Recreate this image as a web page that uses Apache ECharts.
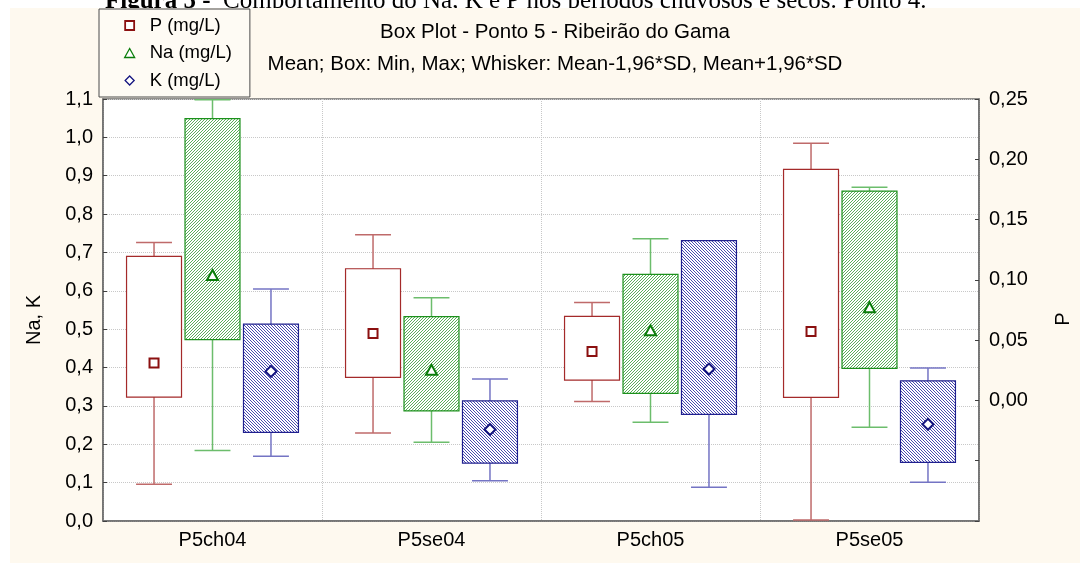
<!DOCTYPE html>
<html>
<head>
<meta charset="utf-8">
<script src="https://cdn.jsdelivr.net/npm/echarts@6/dist/echarts.min.js"></script>
<style>
html,body{margin:0;padding:0;background:#fff;}
#chart{width:1080px;height:563px;}
</style>
</head>
<body>
<div id="chart"></div>
<script>
// ---- data ----
const categories = ['P5ch04', 'P5se04', 'P5ch05', 'P5se05'];
// each row: [Mean-1.96*SD, Min, Mean, Max, Mean+1.96*SD]
const pValues  = [[-0.0695, 0.0028, 0.0311, 0.1194, 0.1310],
                  [-0.0270, 0.0192, 0.0555, 0.1092, 0.1375],
                  [-0.0008, 0.0169, 0.0405, 0.0697, 0.0813],
                  [-0.0992, 0.0025, 0.0572, 0.1917, 0.2133]];
const naValues = [[0.184, 0.473, 0.640, 1.049, 1.098],
                  [0.205, 0.287, 0.393, 0.5325, 0.582],
                  [0.2576, 0.3325, 0.496, 0.643, 0.736],
                  [0.2446, 0.398, 0.556, 0.860, 0.870]];
const kValues  = [[0.169, 0.231, 0.390, 0.513, 0.605],
                  [0.105, 0.151, 0.2386, 0.313, 0.370],
                  [0.088, 0.2777, 0.396, 0.731, 0.704],
                  [0.101, 0.153, 0.252, 0.3655, 0.399]];
const leftTicks = {min: 0, max: 1.1, interval: 0.1};
const rightTicks = {min: -0.1, max: 0.25, interval: 0.05};
const seriesNames = ['P (mg/L)', 'Na (mg/L)', 'K (mg/L)'];

// ---- helpers ----
function hatch(color, dir) {
  const c = document.createElement('canvas');
  c.width = 3; c.height = 3;
  const g = c.getContext('2d');
  g.fillStyle = '#ffffff'; g.fillRect(0, 0, 3, 3);
  g.fillStyle = color;
  for (let i = 0; i < 3; i++) {
    if (dir === '/') g.fillRect(i, 2 - i, 1, 1); else g.fillRect(i, i, 1, 1);
  }
  return c;
}
const FONT = "'Liberation Sans', Arial, sans-serif";
const SERIF = "'Liberation Serif', 'Times New Roman', serif";

function toRows(arr) { return arr.map((r, i) => [i].concat(r)); }

function makeRender(offsetFrac, st) {
  return function (params, api) {
    const cat = api.value(0);
    const wl = api.value(1), bmin = api.value(2), mean = api.value(3), bmax = api.value(4), wh = api.value(5);
    const band = api.size([1, 0])[0];
    const cx = api.coord([cat, mean])[0] + offsetFrac * band;
    const Y = v => api.coord([cat, v])[1];
    const bw = band * 0.251, cw = band * 0.164;
    const ym = Y(mean);
    const lineStyle = {stroke: st.whisker, lineWidth: 1.5, fill: null};
    const children = [
      {type: 'line', shape: {x1: cx, y1: Y(wl), x2: cx, y2: Y(wh)}, style: lineStyle},
      {type: 'line', shape: {x1: cx - cw / 2, y1: Y(wl), x2: cx + cw / 2, y2: Y(wl)}, style: lineStyle},
      {type: 'line', shape: {x1: cx - cw / 2, y1: Y(wh), x2: cx + cw / 2, y2: Y(wh)}, style: lineStyle},
      {type: 'rect', shape: {x: cx - bw / 2, y: Y(bmax), width: bw, height: Y(bmin) - Y(bmax)},
        style: {fill: st.fill, stroke: st.border, lineWidth: 1.2}}
    ];
    const s = 4.5;
    let marker;
    if (st.marker === 'square') {
      marker = {type: 'rect', shape: {x: cx - s, y: ym - s, width: 2 * s, height: 2 * s}};
    } else if (st.marker === 'triangle') {
      marker = {type: 'polygon', shape: {points: [[cx, ym - 5.5], [cx + 5.5, ym + 4.5], [cx - 5.5, ym + 4.5]]}};
    } else {
      marker = {type: 'polygon', shape: {points: [[cx, ym - 5.5], [cx + 5.5, ym], [cx, ym + 5.5], [cx - 5.5, ym]]}};
    }
    marker.style = {fill: '#ffffff', stroke: st.markerColor, lineWidth: 2};
    children.push(marker);
    return {type: 'group', children: children};
  };
}

const styles = [
  {fill: '#ffffff', border: '#a42a2a', whisker: '#bf6a6a', marker: 'square', markerColor: '#8b1010'},
  {fill: {image: hatch('#5aae5a', '/'), repeat: 'repeat'}, border: '#1c911c', whisker: '#6cbd6c', marker: 'triangle', markerColor: '#0a7d0a'},
  {fill: {image: hatch('#4a4ab0', '\\'), repeat: 'repeat'}, border: '#20208f', whisker: '#7474c4', marker: 'diamond', markerColor: '#14147f'}
];
const offsets = [-0.267, 0, 0.267];
const datasets = [pValues, naValues, kValues];
const axisIdx = [1, 0, 0];

const series = datasets.map((d, i) => ({
  name: seriesNames[i],
  type: 'custom',
  coordinateSystem: 'cartesian2d',
  xAxisIndex: 0,
  yAxisIndex: axisIdx[i],
  renderItem: makeRender(offsets[i], styles[i]),
  encode: {x: 0, y: [1, 2, 3, 4, 5]},
  data: toRows(d),
  silent: true,
  clip: false,
  z: 2 + i
}));

const chart = echarts.init(document.getElementById('chart'), null, {renderer: 'canvas'});
const option = {
  backgroundColor: '#ffffff',
  animation: false,
  textStyle: {fontFamily: FONT},
  title: {
    text: 'Box Plot - Ponto 5 - Ribeirão do Gama',
    subtext: 'Mean; Box: Min, Max; Whisker: Mean-1,96*SD, Mean+1,96*SD',
    left: 550, top: 17, textAlign: 'center', itemGap: 11,
    textStyle: {fontFamily: FONT, fontSize: 20.5, fontWeight: 'normal', color: '#000'},
    subtextStyle: {fontFamily: FONT, fontSize: 20.5, color: '#000'}
  },
  legend: {
    orient: 'vertical', left: 99, top: 9,
    padding: [7, 18, 7, 25], itemGap: 8.5,
    itemWidth: 30, itemHeight: 9, symbolKeepAspect: true,
    backgroundColor: '#fefbf4', borderColor: '#4a4a4a', borderWidth: 1,
    selectedMode: false,
    textStyle: {fontFamily: FONT, fontSize: 18.5, color: '#000', padding: [0, 0, 0, 0]},
    data: [
      {name: seriesNames[0], icon: 'path://M0,0H10V10H0Z', itemStyle: {color: '#ffffff', borderColor: '#8b1010', borderWidth: 1.8}},
      {name: seriesNames[1], icon: 'path://M5,0L10,9L0,9Z', itemStyle: {color: '#ffffff', borderColor: '#0a7d0a', borderWidth: 1.3}},
      {name: seriesNames[2], icon: 'path://M5,0L10,5L5,10L0,5Z', itemStyle: {color: '#ffffff', borderColor: '#14147f', borderWidth: 1.3}}
    ]
  },
  grid: {left: 103, right: 101, top: 99, bottom: 42, show: true, backgroundColor: '#ffffff', borderColor: '#6e6e6e', borderWidth: 1.5},
  xAxis: {
    type: 'category', data: categories, boundaryGap: true,
    axisLine: {lineStyle: {color: '#6e6e6e', width: 1.5}},
    axisTick: {inside: true, length: 4, lineStyle: {color: '#404040'}},
    axisLabel: {fontFamily: FONT, fontSize: 20, color: '#000', margin: 9},
    splitLine: {show: true, lineStyle: {color: '#c8c8c8', type: 'dotted', width: 1}}
  },
  yAxis: [
    {
      type: 'value', min: leftTicks.min, max: leftTicks.max, interval: leftTicks.interval,
      axisLine: {show: true, lineStyle: {color: '#6e6e6e', width: 1.5}},
      axisTick: {show: true, inside: true, length: 4, lineStyle: {color: '#404040'}},
      axisLabel: {fontFamily: FONT, fontSize: 20, color: '#000', margin: 10,
        formatter: v => v.toFixed(1).replace('.', ',')},
      splitLine: {show: true, lineStyle: {color: '#c8c8c8', type: 'dotted', width: 1}}
    },
    {
      type: 'value', position: 'right', min: rightTicks.min, max: rightTicks.max, interval: rightTicks.interval,
      axisLine: {show: true, lineStyle: {color: '#6e6e6e', width: 1.5}},
      axisTick: {show: true, inside: true, length: 4, lineStyle: {color: '#404040'}},
      axisLabel: {fontFamily: FONT, fontSize: 20, color: '#000', margin: 10,
        formatter: v => (v < -1e-9 ? '' : v.toFixed(2).replace('.', ','))},
      splitLine: {show: false}
    }
  ],
  graphic: [
    {type: 'text', z: -2, left: 105, top: -11,
      style: {text: '{b|Figura 5 -}  Comportamento do Na, K e P nos períodos chuvosos e secos. Ponto 4.',
        rich: {b: {fontWeight: 'bold', fontFamily: SERIF, fontSize: 25, fill: '#000'}},
        fontFamily: SERIF, fontSize: 25, fill: '#000'}},
    {type: 'rect', z: -1, shape: {x: 10, y: 8, width: 1070, height: 555}, style: {fill: '#fef9ef'}},
    {type: 'text', z: 5, x: 34.5, y: 320, rotation: Math.PI / 2,
      style: {text: 'Na, K', fontFamily: FONT, fontSize: 20, fill: '#000', align: 'center', verticalAlign: 'middle'}},
    {type: 'text', z: 5, x: 1063, y: 319, rotation: Math.PI / 2,
      style: {text: 'P', fontFamily: FONT, fontSize: 20, fill: '#000', align: 'center', verticalAlign: 'middle'}}
  ],
  series: series
};
chart.setOption(option);
</script>
</body>
</html>
